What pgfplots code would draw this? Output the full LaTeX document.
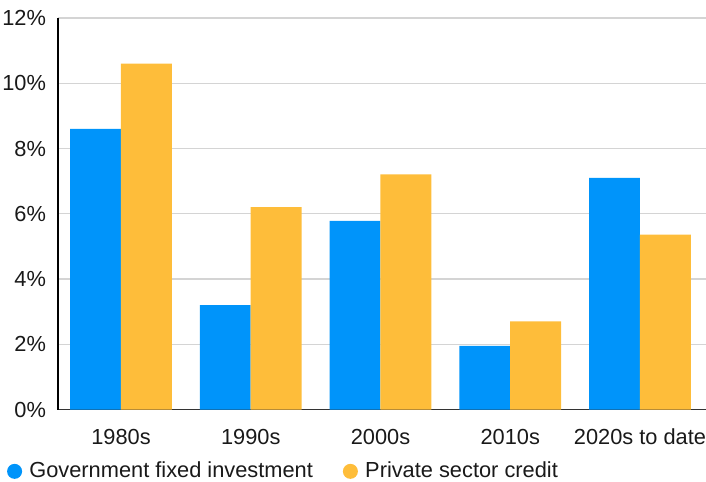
\documentclass[border=0pt]{standalone}
\usepackage{fontspec}
\setmainfont{Liberation Sans}
\usepackage{pgfplots}
\pgfplotsset{compat=1.18}
\definecolor{blueC}{HTML}{0094FA}
\definecolor{orangeC}{HTML}{FEBD3A}
\definecolor{gridC}{HTML}{D4D4D4}
\begin{document}
\begin{tikzpicture}
\begin{axis}[
  width=324pt, height=195.75pt, scale only axis,
  xmin=-0.4855, xmax=4.509,
  ymin=0, ymax=12,
  ytick={0,2,4,6,8,10,12},
  yticklabel={\pgfmathprintnumber{\tick}\%},
  /pgf/number format/assume math mode=true,
  xtick={0,1,2,3,4},
  xticklabels={1980s,1990s,2000s,2010s,2020s to date},
  tick style={draw=none},
  font=\fontsize{10.9}{12}\selectfont,
  ticklabel style={font=\fontsize{10.9}{12}\selectfont, text=black!90},
  yticklabel style={xshift=-2.5pt},
  xticklabel style={yshift=-2pt},
  ymajorgrids, grid style={gridC, line width=0.6pt},
  axis x line*=bottom, axis y line*=left,
  axis line style={line width=0.6pt, black},
  x axis line style={line width=0.8pt, black!80, -},
  y axis line style={-},
  ybar, bar width=0.392,
  legend columns=2,
  legend style={draw=none, fill=none, at={(-0.0792,-0.158)}, anchor=west,
    inner sep=0pt, font=\fontsize{10.9}{12}\selectfont,
    /tikz/every odd column/.append style={column sep=3.65pt},
    /tikz/every even column/.append style={column sep=15pt},
    nodes={inner sep=0pt, text=black!90}},
  legend cell align=left,
]
\addplot[fill=blueC, draw=none, bar shift=-0.196,
  legend image code/.code={\fill[blueC] (3.75pt,0pt) circle (3.75pt);}]
  coordinates {(0,8.6) (1,3.2) (2,5.78) (3,1.95) (4,7.1)};
\addlegendentry{Government fixed investment}
\addplot[fill=orangeC, draw=none, bar shift=0.196,
  legend image code/.code={\fill[orangeC] (3.75pt,0pt) circle (3.75pt);}]
  coordinates {(0,10.6) (1,6.2) (2,7.21) (3,2.7) (4,5.36)};
\addlegendentry{Private sector credit}
\end{axis}
\pgfresetboundingbox
\path[use as bounding box] ([xshift=-29pt,yshift=-36pt]current axis.south west) rectangle ([yshift=9pt]current axis.north east);
\end{tikzpicture}
\end{document}
